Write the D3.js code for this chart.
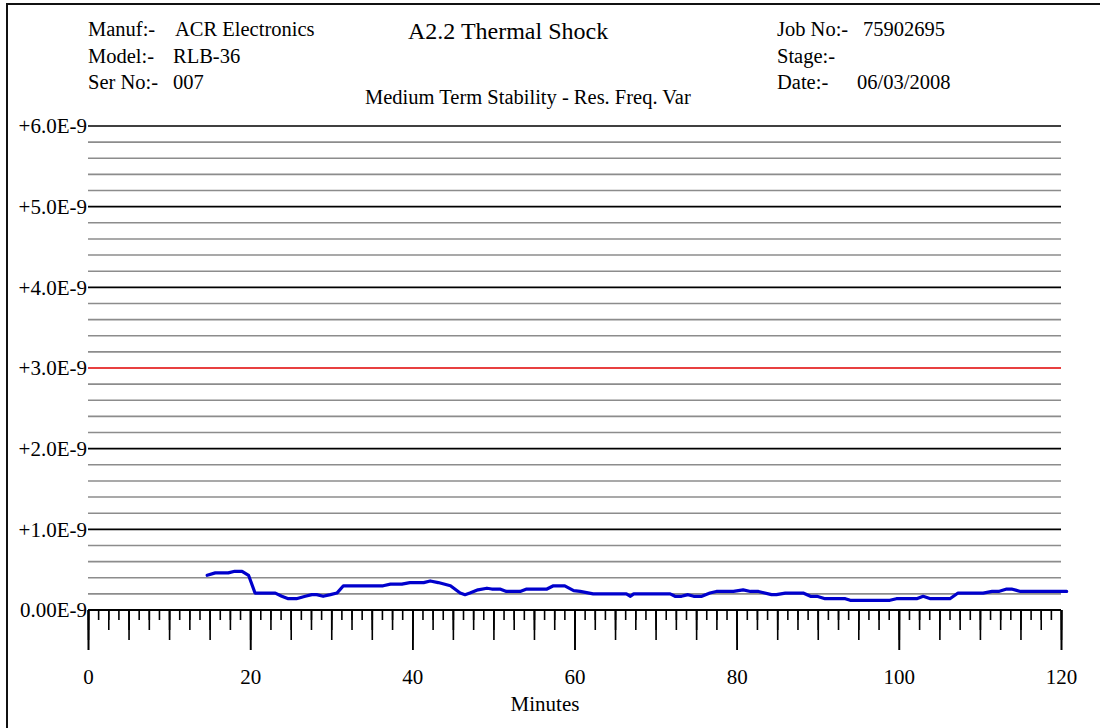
<!DOCTYPE html>
<html>
<head>
<meta charset="utf-8">
<script src="https://cdn.jsdelivr.net/npm/d3@7"></script>
<style>
    body { margin: 0; background: #fff; }
    svg { display: block; font-family: "Liberation Serif", "Times New Roman", serif; }
    .axis path { display: none; }
    .axis line { stroke: #000; stroke-width: 1.6; }
</style>
</head>
<body>
<svg id="chart" width="1100" height="728"></svg>
<script>

// ----- DATA ----- //
var minutes = [14.7, 15.7, 17.3, 18.1, 19.0, 19.8, 20.6, 23.1, 23.9, 24.7,
    25.7, 26.8, 27.6, 28.2, 29.0, 29.9, 30.7, 31.5, 36.4, 37.3,
    38.7, 39.7, 41.4, 42.2, 43.2, 44.7, 45.9, 46.5, 47.1, 48.1,
    49.2, 49.8, 50.8, 51.6, 53.3, 54.1, 56.6, 57.4, 58.8, 59.9,
    60.7, 62.3, 66.4, 66.9, 67.3, 71.8, 72.4, 73.2, 74.0, 74.7,
    75.7, 76.7, 77.5, 79.6, 80.8, 81.7, 82.7, 84.3, 84.9, 86.0,
    88.2, 89.1, 89.9, 90.9, 93.4, 94.0, 98.9, 99.7, 102.2, 103.0,
    103.9, 106.3, 107.3, 110.4, 111.5, 112.3, 113.3, 113.9, 115.0, 120.7];

// res. freq. variation, in units of 1E-9
var freqVar = [0.43, 0.46, 0.46, 0.48, 0.48, 0.43, 0.21, 0.21, 0.17, 0.14,
    0.14, 0.17, 0.19, 0.19, 0.17, 0.19, 0.21, 0.30, 0.30, 0.32,
    0.32, 0.34, 0.34, 0.36, 0.34, 0.30, 0.21, 0.19, 0.21, 0.25,
    0.27, 0.26, 0.26, 0.23, 0.23, 0.26, 0.26, 0.30, 0.30, 0.24,
    0.23, 0.20, 0.20, 0.17, 0.20, 0.20, 0.17, 0.17, 0.19, 0.17,
    0.17, 0.21, 0.23, 0.23, 0.25, 0.23, 0.23, 0.19, 0.19, 0.21,
    0.21, 0.17, 0.17, 0.14, 0.14, 0.12, 0.12, 0.14, 0.14, 0.17,
    0.14, 0.14, 0.21, 0.21, 0.23, 0.23, 0.26, 0.26, 0.23, 0.23];

var yTickValues = [0, 1, 2, 3, 4, 5, 6];
var yTickLabels = ["0.00E-9", "+1.0E-9", "+2.0E-9", "+3.0E-9", "+4.0E-9", "+5.0E-9", "+6.0E-9"];
var limitValue = 3;   // red limit line
var xTickValues = [0, 20, 40, 60, 80, 100, 120];

var leftLabels = ["Manuf:-", "Model:-", "Ser No:-"];
var leftValues = ["ACR Electronics", "RLB-36", "007"];
var rightLabels = ["Job No:-", "Stage:-", "Date:-"];
var rightValues = ["75902695", "", "06/03/2008"];
var title = "A2.2 Thermal Shock";
var subtitle = "Medium Term Stability - Res. Freq. Var";
var xTitle = "Minutes";


var svg = d3.select("#chart");

// outer frame (only top and left edges fall inside the window)
svg.append("rect")
    .attr("x", 7).attr("y", 4)
    .attr("width", 1300).attr("height", 900)
    .attr("fill", "none")
    .attr("stroke", "#111")
    .attr("stroke-width", 2);

var x = d3.scaleLinear().domain([0, 120]).range([88, 1061]);
var y = d3.scaleLinear().domain([0, 6]).range([610, 126]);

// ----- HEADER ----- //
leftLabels.forEach(function(l, i) {
    svg.append("text").attr("x", 88).attr("y", 36 + i * 26.5)
        .attr("font-size", 20.5).text(l);
    svg.append("text").attr("x", i == 0 ? 175 : 173).attr("y", 36 + i * 26.5)
        .attr("font-size", 20.5).text(leftValues[i]);
});
rightLabels.forEach(function(l, i) {
    svg.append("text").attr("x", 777).attr("y", 36 + i * 26.5)
        .attr("font-size", 20.5).text(l);
    svg.append("text").attr("x", i == 2 ? 857 : 863).attr("y", 36 + i * 26.5)
        .attr("font-size", 20.5).text(rightValues[i]);
});
svg.append("text").attr("x", 408).attr("y", 39)
    .attr("font-size", 24).text(title);
svg.append("text").attr("x", 365).attr("y", 104)
    .attr("font-size", 20.5).text(subtitle);

// ----- GRID ----- //
var minorY = d3.range(0, 6.001, 0.2).filter(function(v) {
    return Math.abs(v - Math.round(v)) > 0.01;
});
svg.append("g").selectAll("line")
    .data(minorY).enter().append("line")
    .attr("x1", x(0)).attr("x2", x(120))
    .attr("y1", function(d) { return y(d); })
    .attr("y2", function(d) { return y(d); })
    .attr("stroke", "#8c8c8c")
    .attr("stroke-width", 1.6);

svg.append("g").selectAll("line")
    .data(yTickValues).enter().append("line")
    .attr("x1", x(0)).attr("x2", x(120))
    .attr("y1", function(d) { return y(d); })
    .attr("y2", function(d) { return y(d); })
    .attr("stroke", function(d) { return d == limitValue ? "#e00000" : "#000"; })
    .attr("stroke-width", 1.6);

// y labels
var yAxis = d3.axisLeft(y)
    .tickValues(yTickValues)
    .tickSize(0)
    .tickPadding(1)
    .tickFormat(function(d, i) { return yTickLabels[i]; });
svg.append("g").attr("class", "axis")
    .attr("transform", "translate(" + x(0) + ",0)")
    .call(yAxis)
    .selectAll("text")
    .attr("font-family", "Liberation Serif")
    .attr("font-size", 21)
    .attr("fill", "#000");

// ----- X TICKS ----- //
// four axes stacked, one per tick length
var tickSets = [
    { step: 1.25, size: 10 },
    { step: 2.5, size: 20 },
    { step: 5, size: 30 },
    { step: 20, size: 40 }
];
tickSets.forEach(function(t) {
    var vals = d3.range(0, 120.001, t.step);
    var ax = d3.axisBottom(x).tickValues(vals).tickSize(t.size).tickFormat("");
    svg.append("g").attr("class", "axis")
        .attr("transform", "translate(0," + y(0) + ")")
        .call(ax);
});

var xAxis = d3.axisBottom(x)
    .tickValues(xTickValues)
    .tickSize(40)
    .tickPadding(19)
    .tickFormat(d3.format("d"));
svg.append("g").attr("class", "axis")
    .attr("transform", "translate(0," + y(0) + ")")
    .call(xAxis)
    .selectAll("text")
    .attr("font-family", "Liberation Serif")
    .attr("font-size", 21)
    .attr("fill", "#000");

svg.append("line")
    .attr("x1", x(0)).attr("x2", x(120))
    .attr("y1", y(0)).attr("y2", y(0))
    .attr("stroke", "#000").attr("stroke-width", 2);

svg.append("text")
    .attr("x", 545).attr("y", 711)
    .attr("text-anchor", "middle")
    .attr("font-size", 21)
    .text(xTitle);

// ----- DATA LINE ----- //
var line = d3.line()
    .x(function(d) { return x(d[0]); })
    .y(function(d) { return y(d[1]); });

svg.append("path")
    .datum(d3.zip(minutes, freqVar))
    .attr("d", line)
    .attr("fill", "none")
    .attr("stroke", "#0000cc")
    .attr("stroke-width", 3.2)
    .attr("stroke-linejoin", "round")
    .attr("stroke-linecap", "round");

</script>
</body>
</html>
